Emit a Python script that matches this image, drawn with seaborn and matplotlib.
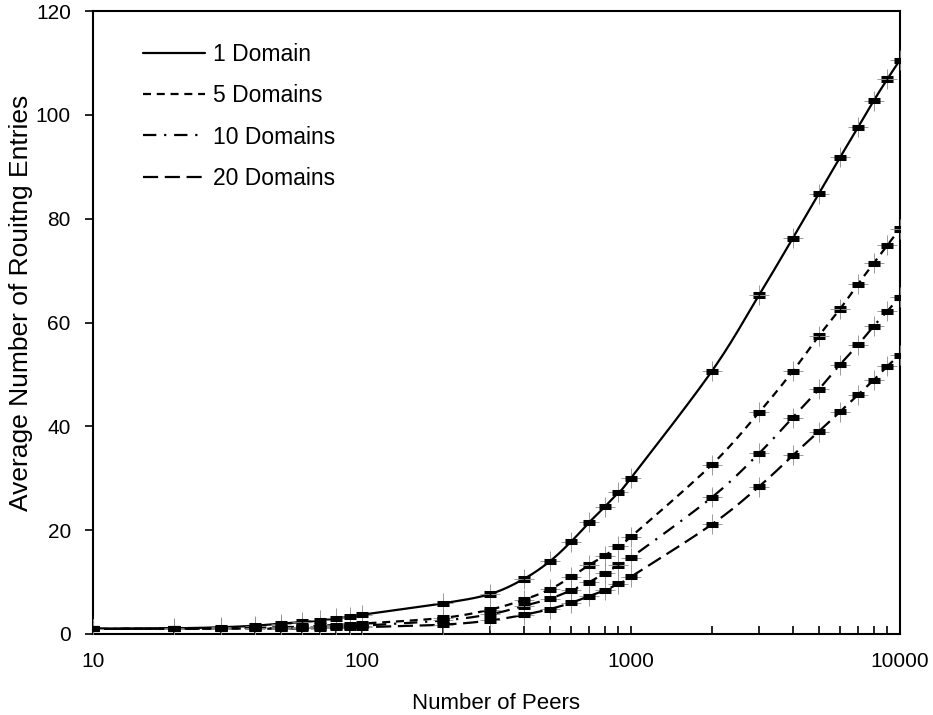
import matplotlib
matplotlib.use("Agg")
import matplotlib.pyplot as plt
import seaborn as sns
import numpy as np
import pandas as pd
from matplotlib.ticker import FixedLocator, NullFormatter

peers = [10, 20, 30, 40, 50, 60, 70, 80, 90, 100,
         200, 300, 400, 500, 600, 700, 800, 900, 1000,
         2000, 3000, 4000, 5000, 6000, 7000, 8000, 9000, 10000]

dom1 = [1.0, 1.1, 1.3, 1.6, 2.0, 2.3, 2.6, 3.0, 3.3, 3.7,
        5.9, 7.7, 10.6, 14.0, 17.8, 21.5, 24.5, 27.3, 30.0,
        50.6, 65.3, 76.2, 84.8, 91.8, 97.6, 102.7, 106.9, 110.5]
dom5 = [1.0, 1.0, 1.1, 1.2, 1.3, 1.4, 1.6, 1.7, 1.9, 2.0,
        3.1, 4.7, 6.6, 8.6, 11.0, 13.3, 15.1, 16.9, 18.7,
        32.6, 42.7, 50.6, 57.4, 62.6, 67.4, 71.4, 74.9, 78.0]
dom10 = [1.0, 1.0, 1.0, 1.1, 1.1, 1.2, 1.3, 1.4, 1.5, 1.6,
         2.6, 3.8, 5.4, 6.8, 8.4, 10.0, 11.7, 13.3, 14.7,
         26.3, 34.8, 41.7, 47.1, 51.9, 55.7, 59.3, 62.2, 64.9]
dom20 = [1.0, 1.0, 1.0, 1.0, 1.0, 1.1, 1.1, 1.2, 1.2, 1.3,
         1.8, 2.6, 3.7, 4.8, 6.0, 7.3, 8.4, 9.7, 11.0,
         21.1, 28.4, 34.4, 39.0, 42.8, 46.1, 48.9, 51.6, 53.7]

labels = ["1 Domain", "5 Domains", "10 Domains", "20 Domains"]
series = [dom1, dom5, dom10, dom20]
err = 0.3


def smooth(xs, ys, n=24):
    """Excel-style smoothed line through every data point (Bezier, tension 1/6),
    computed in screen-proportional coordinates (log x)."""
    sx, sy = 269.0, 5.19
    p = np.column_stack([np.log10(xs) * sx, np.asarray(ys) * sy])
    out = [p[0]]
    t = np.linspace(0, 1, n + 1)[1:]
    for i in range(len(p) - 1):
        p0 = p[i - 1] if i > 0 else p[i]
        p1, p2 = p[i], p[i + 1]
        p3 = p[i + 2] if i + 2 < len(p) else p[i + 1]
        c1 = p1 + (p2 - p0) / 6.0
        c2 = p2 - (p3 - p1) / 6.0
        seg = ((1 - t) ** 3)[:, None] * p1 + (3 * (1 - t) ** 2 * t)[:, None] * c1 \
            + (3 * (1 - t) * t ** 2)[:, None] * c2 + (t ** 3)[:, None] * p2
        out.extend(seg)
    out = np.array(out)
    return 10 ** (out[:, 0] / sx), out[:, 1] / sy


frames = []
for lab, s in zip(labels, series):
    cx, cy = smooth(peers, s)
    frames.append(pd.DataFrame({"peers": cx, "entries": cy, "series": lab}))
df = pd.concat(frames, ignore_index=True)

sns.set_style("ticks")
plt.rcParams["font.family"] = ["Liberation Sans", "DejaVu Sans"]
plt.rcParams["text.color"] = "black"
plt.rcParams["axes.labelcolor"] = "black"
plt.rcParams["xtick.color"] = "black"
plt.rcParams["ytick.color"] = "black"

fig = plt.figure(figsize=(9.33, 7.15), dpi=100)
ax = fig.add_axes([0.0997, 0.1133, 0.8646, 0.8713])

dashes = {"1 Domain": "", "5 Domains": (3.6, 2.6), "10 Domains": (6, 3.5, 1, 3.5),
          "20 Domains": (6.8, 3)}
sns.lineplot(data=df, x="peers", y="entries", style="series", dashes=dashes,
             color="black", linewidth=1.6, ax=ax, legend=True, sort=False,
             estimator=None)

for s in series:
    ax.plot(peers, s, linestyle="none", marker="+", markersize=14,
            markeredgewidth=0.6, color="#8a8a8a", zorder=3)
    ax.errorbar(peers, s, yerr=err, fmt="none", ecolor="black",
                elinewidth=1.0, capsize=4.5, capthick=2.2, zorder=4)

ax.set_xscale("log")
ax.set_xlim(10, 10000)
ax.set_ylim(0, 120)
ax.set_yticks([0, 20, 40, 60, 80, 100, 120])
ax.set_xticks([10, 100, 1000, 10000])
ax.set_xticklabels(["10", "100", "1000", "10000"])
minors = [m * 10 ** e for e in range(1, 4) for m in range(2, 10)]
ax.xaxis.set_minor_locator(FixedLocator(minors))
ax.xaxis.set_minor_formatter(NullFormatter())
ax.tick_params(axis="x", which="both", direction="in", length=6, width=1.2,
               labelsize=15, pad=13, colors="black")
ax.tick_params(axis="y", which="major", direction="out", length=6, width=1.2,
               labelsize=15, pad=10, colors="black")
for sp in ax.spines.values():
    sp.set_visible(True)
    sp.set_linewidth(1.5)
    sp.set_color("black")

ax.set_xlabel("Number of Peers", fontsize=16, labelpad=16, color="black")
ax.set_ylabel("Average Number of Rouitng Entries", fontsize=19, color="black")
ax.yaxis.set_label_coords(-0.074, 0.531)

leg = ax.legend(loc="upper left", frameon=False, fontsize=16.5, handlelength=2.7,
                labelspacing=0.8, bbox_to_anchor=(0.036, 0.982), handletextpad=0.35)
for line in leg.get_lines():
    line.set_linewidth(1.6)
for txt in leg.get_texts():
    txt.set_color("black")

fig.savefig("out.png", dpi=100)
